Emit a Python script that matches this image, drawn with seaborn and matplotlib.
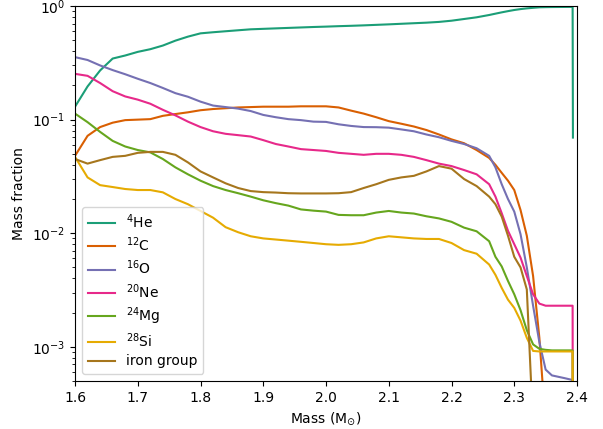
import numpy as np
import pandas as pd
import matplotlib
matplotlib.use('Agg')
import matplotlib.pyplot as plt
import seaborn as sns

# mass coordinate (M_sun)
mass = [1.60, 1.62, 1.64, 1.66, 1.68, 1.70, 1.72, 1.74, 1.76, 1.78,
        1.80, 1.82, 1.84, 1.86, 1.88, 1.90, 1.92, 1.94, 1.96, 1.98,
        2.00, 2.02, 2.04, 2.06, 2.08, 2.10, 2.12, 2.14, 2.16, 2.18,
        2.20, 2.22, 2.24, 2.26, 2.27, 2.28, 2.29, 2.30, 2.31, 2.32,
        2.33, 2.34, 2.35, 2.36, 2.38, 2.393, 2.3935]

he4 = [0.130, 0.196, 0.271, 0.345, 0.367, 0.395, 0.417, 0.449, 0.496, 0.538,
       0.575, 0.588, 0.600, 0.612, 0.624, 0.630, 0.636, 0.642, 0.648, 0.654,
       0.659, 0.665, 0.670, 0.676, 0.683, 0.690, 0.698, 0.706, 0.714, 0.725,
       0.743, 0.769, 0.796, 0.834, 0.857, 0.880, 0.902, 0.923, 0.940, 0.954,
       0.965, 0.975, 0.978, 0.980, 0.982, 0.983, 0.0695]

c12 = [0.048, 0.072, 0.086, 0.094, 0.099, 0.100, 0.101, 0.108, 0.112, 0.116,
       0.121, 0.124, 0.126, 0.128, 0.129, 0.130, 0.130, 0.130, 0.131, 0.131,
       0.131, 0.128, 0.120, 0.113, 0.105, 0.097, 0.092, 0.087, 0.081, 0.074,
       0.067, 0.062, 0.054, 0.046, 0.040, 0.034, 0.029, 0.024, 0.016, 0.0095,
       0.0042, 0.0012, 2e-4, 1e-5, 1e-5, 1e-5, 1e-5]

o16 = [0.355, 0.335, 0.300, 0.273, 0.251, 0.229, 0.210, 0.190, 0.171, 0.159,
       0.144, 0.133, 0.129, 0.125, 0.119, 0.110, 0.105, 0.101, 0.099, 0.096,
       0.0955, 0.091, 0.088, 0.086, 0.0858, 0.085, 0.082, 0.079, 0.074, 0.070,
       0.065, 0.061, 0.056, 0.048, 0.038, 0.027, 0.020, 0.0155, 0.0098, 0.0050,
       0.0023, 0.0011, 6.3e-4, 5.6e-4, 5.3e-4, 5.1e-4, 1e-5]

ne20 = [0.253, 0.243, 0.210, 0.178, 0.160, 0.150, 0.138, 0.122, 0.109, 0.096,
        0.086, 0.079, 0.075, 0.073, 0.071, 0.066, 0.061, 0.058, 0.055, 0.054,
        0.053, 0.051, 0.050, 0.049, 0.050, 0.050, 0.049, 0.047, 0.044, 0.041,
        0.039, 0.036, 0.033, 0.027, 0.021, 0.015, 0.0105, 0.0080, 0.0061, 0.0042,
        0.0029, 0.0024, 0.0023, 0.0023, 0.0023, 0.0023, 1e-5]

mg24 = [0.113, 0.095, 0.078, 0.065, 0.058, 0.054, 0.0515, 0.045, 0.038, 0.033,
        0.029, 0.026, 0.024, 0.0225, 0.021, 0.0195, 0.0184, 0.0175, 0.0162, 0.0158,
        0.0155, 0.0145, 0.0144, 0.0144, 0.0152, 0.0157, 0.0152, 0.0149, 0.0141, 0.0135,
        0.0126, 0.0112, 0.0104, 0.0085, 0.0062, 0.0051, 0.0038, 0.0029, 0.0021, 0.0014,
        0.00105, 0.00096, 0.00094, 0.00093, 0.00093, 0.00093, 1e-5]

si28 = [0.047, 0.031, 0.0265, 0.0255, 0.0245, 0.024, 0.024, 0.0229, 0.020, 0.018,
        0.0157, 0.0137, 0.0113, 0.0102, 0.0094, 0.0090, 0.0088, 0.0086, 0.0084, 0.0082,
        0.0080, 0.0079, 0.0080, 0.0083, 0.0090, 0.0094, 0.0092, 0.0090, 0.0089, 0.0089,
        0.0082, 0.0071, 0.0066, 0.0053, 0.0043, 0.0033, 0.0026, 0.0022, 0.0017, 0.0012,
        0.00092, 0.00091, 0.00091, 0.00091, 0.00091, 0.00091, 1e-5]

iron = [0.045, 0.041, 0.044, 0.047, 0.048, 0.051, 0.052, 0.052, 0.049, 0.042,
        0.035, 0.031, 0.0275, 0.025, 0.0235, 0.023, 0.0228, 0.0225, 0.0224, 0.0224,
        0.0224, 0.0225, 0.023, 0.025, 0.027, 0.0295, 0.031, 0.032, 0.035, 0.039,
        0.037, 0.030, 0.026, 0.021, 0.018, 0.014, 0.0095, 0.0062, 0.0050, 0.0032,
        2e-4, 1e-5, 1e-5, 1e-5, 1e-5, 1e-5, 1e-5]

labels = [r'$^{4}$He', r'$^{12}$C', r'$^{16}$O', r'$^{20}$Ne',
          r'$^{24}$Mg', r'$^{28}$Si', 'iron group']

df = pd.DataFrame({'mass': mass})
for lab, vals in zip(labels, [he4, c12, o16, ne20, mg24, si28, iron]):
    df[lab] = vals
long = df.melt(id_vars='mass', var_name='species', value_name='fraction')

fig = plt.figure(figsize=(6.03, 4.29), dpi=100)
ax = fig.add_axes([0.1244, 0.1119, 0.8325, 0.874])

sns.lineplot(data=long, x='mass', y='fraction', hue='species', hue_order=labels,
             palette=sns.color_palette('Dark2', 7), estimator=None, sort=False,
             linewidth=1.5, ax=ax)

ax.set_yscale('log')
ax.set_xlim(1.6, 2.4)
ax.set_ylim(5e-4, 1)
ax.set_xlabel(r'Mass (M$_{\odot}$)')
ax.set_ylabel('Mass fraction')
ax.legend(loc='lower left', title=None, labelspacing=0.33)

fig.savefig('out.png', dpi=100)
